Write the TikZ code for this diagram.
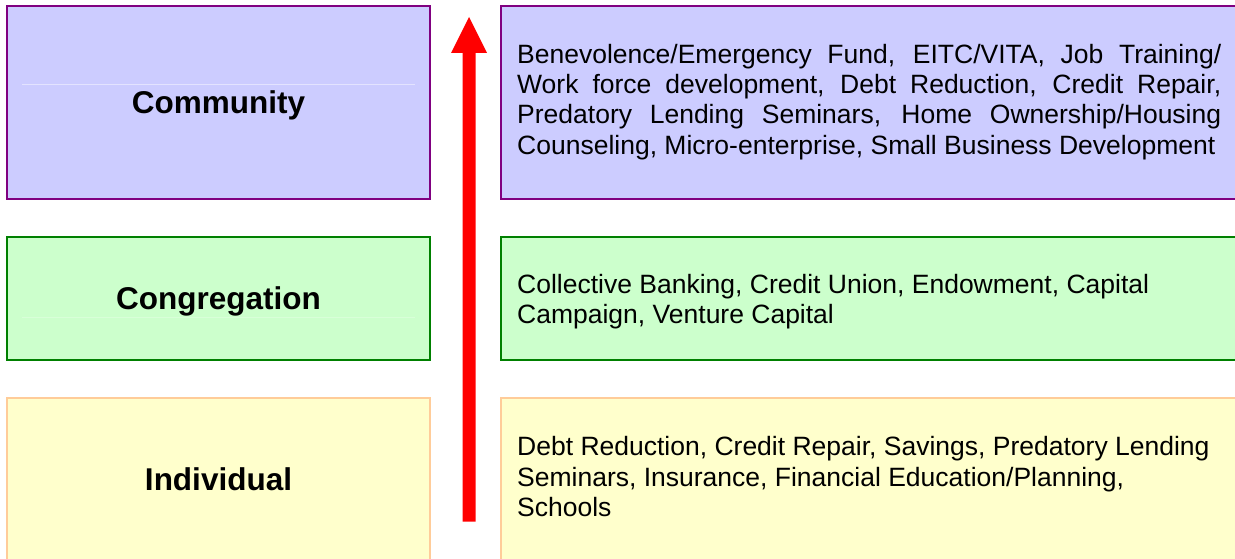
\documentclass[tikz,border=0pt]{standalone}
\usepackage{fontspec}
\setmainfont{Liberation Sans}
\definecolor{commfill}{HTML}{CCCCFF}
\definecolor{commedge}{HTML}{800080}
\definecolor{congfill}{HTML}{CCFFCC}
\definecolor{congedge}{HTML}{008000}
\definecolor{indfill}{HTML}{FFFFCC}
\definecolor{indedge}{HTML}{FFCC99}
\definecolor{arrowred}{HTML}{FF0000}
\tikzset{
  levelbox/.style={draw, line width=2pt, inner sep=0pt, minimum width=423pt,
    font=\fontsize{31.5}{36}\selectfont\bfseries, text height=22.6pt, text depth=0pt},
  listbox/.style={draw, line width=2pt},
  listtext/.style={anchor=north west, inner sep=0pt, align=left,
    font=\fontsize{26.5}{30.4}\selectfont},
  faintline/.style={line width=0.8pt, white, opacity=0.45}
}
\begin{document}
\begin{tikzpicture}[x=1pt,y=-1pt]
\clip (0,0) rectangle (1235,559);
\fill[white] (0,0) rectangle (1235,559);
% left level boxes
\node[levelbox, fill=commfill, draw=commedge, minimum height=193pt] (comm) at (218.5,102.5) {Community};
\node[levelbox, fill=congfill, draw=congedge, minimum height=123pt] (cong) at (218.5,298.5) {Congregation};
\node[levelbox, fill=indfill, draw=indedge, minimum height=163pt] (ind) at (218.5,479.5) {};
\node[font=\fontsize{31.5}{36}\selectfont\bfseries, inner sep=0pt, text height=22.6pt, text depth=0pt] (indlabel) at (218.5,479) {Individual};
% faint lines
\draw[faintline] (22,84) -- (415,84);
\draw[faintline, opacity=0.25] (22,317) -- (415,317);
% right list boxes
\draw[listbox, fill=commfill, draw=commedge] (501,6) rectangle (1245,199);
\draw[listbox, fill=congfill, draw=congedge] (501,237) rectangle (1245,360);
\draw[listbox, fill=indfill, draw=indedge] (501,398) rectangle (1245,570);
% texts
\node[listtext] (commtext) at (517,41.7) {%
\strut\makebox[704pt][s]{Benevolence/Emergency Fund, EITC/VITA, Job Training/}\\
\strut\makebox[704pt][s]{Work force development, Debt Reduction, Credit Repair,}\\
\strut\makebox[704pt][s]{Predatory Lending Seminars, Home Ownership/Housing}\\
\strut Counseling, Micro-enterprise, Small Business Development};
\node[listtext] (congtext) at (517,271.7) {%
\strut Collective Banking, Credit Union, Endowment, Capital\\
\strut Campaign, Venture Capital};
\node[listtext] (indtext) at (517,434.2) {%
\strut Debt Reduction, Credit Repair, Savings, Predatory Lending\\
\strut Seminars, Insurance, Financial Education/Planning,\\
\strut Schools};
% red upward arrow
\coordinate (tip) at (469,17);
\coordinate (hl) at (451,53);
\coordinate (hr) at (487,53);
\coordinate (sl) at (462.5,53);
\coordinate (sr) at (475.5,53);
\coordinate (bl) at (462.5,521.5);
\coordinate (br) at (475.5,521.5);
\fill[arrowred] (tip) -- (hr) -- (sr) -- (br) -- (bl) -- (sl) -- (hl) -- cycle;
\end{tikzpicture}
\end{document}
